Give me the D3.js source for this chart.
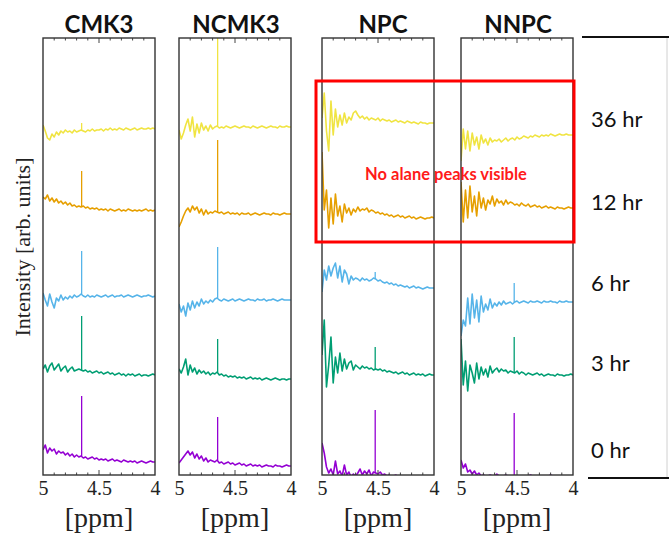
<!DOCTYPE html>
<html>
<head>
<meta charset="utf-8">
<script src="https://cdn.jsdelivr.net/npm/d3@7"></script>
<style>
  html, body { margin: 0; padding: 0; background: #fff; }
  svg { display: block; }
</style>
</head>
<body>
<svg id="chart" width="669" height="533"></svg>
<script>
// ---------------- DATA ----------------
const panelNames = ["CMK3", "NCMK3", "NPC", "NNPC"];
const timeLabels = ["36 hr", "12 hr", "6 hr", "3 hr", "0 hr"];
const tickValues = [5, 4.5, 4];
const tickLabels = ["5", "4.5", "4"];
const boxNote = "No alane peaks visible";

// spectra sampled every 0.02 ppm from 5.00 to 4.00 (deviation from trace baseline)
const cmk3_36 = [4,-2,-9,-11,-5,-8,-3,-6,-2,-4,-1,-3,-2,-4,-1,-3,-2,-1,-2,-3,-1,-2,0,-2,-1,-1,0,-2,0,-1,1,-1,0,-1,1,0,-1,1,0,-1,0,1,-1,0,1,0,0,1,0,1,0];
const cmk3_12 = [13,11,15,9,12,8,11,7,9,6,8,5,7,4,5,3,4,3,4,2,3,1,2,1,2,0,1,0,1,-1,1,0,-1,0,1,-1,0,-1,1,0,-1,0,-1,0,-1,0,1,-1,0,-1,0];
const cmk3_6  = [3,-4,-10,2,-6,-12,-2,-5,1,-4,-1,-3,0,-2,1,-1,0,2,0,-1,1,-1,0,-1,1,0,-1,0,1,-1,0,1,-1,0,0,1,-1,0,1,0,-1,0,1,0,-1,0,0,1,0,-1,0];
const cmk3_3  = [6,10,3,9,12,5,8,11,4,7,9,3,6,8,4,5,6,5,4,5,3,4,2,3,4,2,3,1,2,3,1,2,0,1,2,0,1,-1,1,0,1,-1,0,1,-1,0,0,-1,0,1,0];
const cmk3_0  = [12,17,9,14,11,13,8,11,9,10,7,9,6,8,5,7,5,6,4,5,3,4,5,3,4,2,3,2,3,1,2,3,1,2,1,0,2,1,0,1,0,1,-1,0,1,0,-1,0,1,0,0];

const ncmk3_36 = [-3,-12,-6,2,8,-4,10,-10,3,-6,4,-3,1,-4,2,-2,0,1,-1,0,-1,1,0,-1,0,1,0,-1,0,1,0,0,-1,1,0,-1,0,1,0,-1,0,1,0,0,-1,1,0,0,1,0,0];
const ncmk3_12 = [-13,-8,-2,3,6,2,8,4,7,1,5,-1,4,0,2,1,3,2,1,2,0,1,2,0,1,0,1,-1,1,0,0,1,-1,0,1,0,-1,0,1,0,0,-1,1,0,0,-1,0,1,0,0,0];
const ncmk3_6  = [-4,-12,-6,-16,-3,-10,-1,-8,-2,-6,1,-4,-1,-3,0,-2,1,2,0,-1,1,0,-1,0,1,-1,0,1,0,-1,0,1,0,0,-1,1,0,0,1,-1,0,0,1,0,-1,0,1,0,0,0,0];
const ncmk3_3  = [10,6,12,20,4,14,7,11,5,9,6,8,5,7,4,6,5,7,4,5,3,4,2,3,2,3,1,2,1,2,0,1,2,0,1,0,1,-1,0,1,0,-1,0,1,0,-1,0,0,-1,0,0];
const ncmk3_0  = [3,6,9,12,15,11,14,8,12,7,10,5,8,4,6,5,4,6,3,4,2,3,4,2,3,1,2,3,1,2,0,1,2,0,1,0,1,-1,0,1,0,0,-1,1,0,0,-1,0,1,0,0];

const npc_36 = [5,30,-8,-28,22,-12,14,-4,8,-2,10,0,6,3,10,12,8,5,7,4,6,3,5,4,3,5,2,4,3,2,3,1,2,3,1,2,1,0,2,1,0,1,0,-1,1,0,0,-1,0,0,0];
const npc_12 = [66,8,28,-10,20,-6,24,2,12,-4,14,5,10,3,9,6,11,7,9,8,10,6,8,7,5,6,4,5,3,4,2,3,1,2,3,1,2,0,1,2,0,1,-1,0,1,0,-1,0,0,1,0];
const npc_6  = [-4,18,8,22,12,20,25,10,22,6,18,14,4,12,8,10,9,7,10,8,9,7,8,10,9,7,8,6,5,6,4,5,3,4,2,3,2,1,2,0,1,2,0,1,0,-1,0,1,0,0,0];
const npc_3  = [20,55,-12,10,38,-8,18,2,22,4,16,6,12,14,5,10,8,6,9,7,8,6,7,5,6,5,6,4,5,3,4,3,2,3,1,2,3,1,2,0,1,2,0,1,0,1,-1,0,1,0,0];
const npc_0  = [34,24,10,4,8,2,16,3,6,1,12,2,5,0,3,1,4,8,2,6,3,7,1,5,4,3,5,2,3,1,2,0,1,2,0,1,0,1,0,0,1,0,0,1,0,0,0,1,0,0,0];

const nnpc_36 = [-26,6,-14,4,-16,2,-10,-2,-14,0,-8,-4,-10,-3,-7,-5,-6,-4,-7,-5,-3,-6,-4,-3,-5,-2,-4,-3,-1,-2,-3,-1,-2,0,-1,-2,0,-1,0,-1,1,0,-1,0,1,0,0,1,0,0,0];
const nnpc_12 = [26,-14,18,-10,22,-4,12,-8,16,0,10,-2,8,4,12,2,9,5,7,3,8,4,6,5,3,4,2,5,3,2,4,1,2,3,1,2,0,1,2,0,1,0,-1,1,0,0,-1,0,1,0,0];
const nnpc_6  = [-34,-18,-24,4,-22,8,-16,2,-20,6,-10,-2,-8,3,-6,-1,-4,0,-3,1,-2,-1,0,-2,0,1,-1,0,1,0,-1,1,0,0,1,0,-1,1,0,0,1,0,0,-1,1,0,0,1,0,0,0];
const nnpc_3  = [36,-10,14,-16,10,2,-8,12,-4,8,0,6,-2,9,2,5,7,3,6,4,5,2,4,3,2,4,1,3,2,0,2,1,0,1,2,0,1,-1,0,1,0,0,-1,1,0,0,-1,0,0,1,0];
const nnpc_0  = [16,8,12,4,6,2,5,1,3,0,1,0,0,1,0,0,2,0,0,0,1,0,0,0,0,0,0,0,0,0,0,1,0,0,0,0,0,0,0,0,1,0,0,0,0,0,0,0,0,0,0];

// baseline offsets (36, 12, 6, 3, 0 hr) per panel
const cmk3_offsets  = [346, 265, 179, 100, 13];
const ncmk3_offsets = [348, 261, 175, 96, 9];
const npc_offsets   = [352, 257, 187, 100, -2];
const nnpc_offsets  = [340, 267, 173, 100, -1];

// sharp peak position (ppm) per panel and peak height above baseline per trace
const peakPpm = [4.655, 4.655, 4.525, 4.525];
const cmk3_peaks  = [6, 39, 45, 59, 66];
const ncmk3_peaks = [100, 74, 53, 40, 49];
const npc_peaks   = [0, 0, 16, 28, 67];
const nnpc_peaks  = [0, 0, 19, 38, 63];

// ---------------- BUILD ----------------
const ppmStep = 0.02;
const series = [
  [cmk3_36, cmk3_12, cmk3_6, cmk3_3, cmk3_0],
  [ncmk3_36, ncmk3_12, ncmk3_6, ncmk3_3, ncmk3_0],
  [npc_36, npc_12, npc_6, npc_3, npc_0],
  [nnpc_36, nnpc_12, nnpc_6, nnpc_3, nnpc_0]
];
const offsets = [cmk3_offsets, ncmk3_offsets, npc_offsets, nnpc_offsets];
const peaks = [cmk3_peaks, ncmk3_peaks, npc_peaks, nnpc_peaks];

const colors = ["#f0e442", "#e69f00", "#56b4e9", "#009e73", "#9400d3"];

const svg = d3.select("#chart");
const yTop = 38, yBottom = 475, pw = 112;
const panelLeft = [43, 179, 322, 461];
const titleDx = [0, 1, 5, 1];

const y = d3.scaleLinear().domain([0, 437]).range([yBottom, yTop]);

const defs = svg.append("defs");

panelNames.forEach((name, p) => {
  const x0 = panelLeft[p];
  const x = d3.scaleLinear().domain([5, 4]).range([x0, x0 + pw]);
  const g = svg.append("g");

  defs.append("clipPath").attr("id", "clip" + p)
    .append("rect").attr("x", x0).attr("y", yTop).attr("width", pw).attr("height", yBottom - yTop);

  const plot = g.append("g").attr("clip-path", `url(#clip${p})`);
  const line = d3.line().x(d => x(d[0])).y(d => y(d[1]));

  series[p].forEach((vals, k) => {
    const off = offsets[p][k];
    const pts = vals.map((v, i) => [5 - i * ppmStep, off + v]);
    plot.append("path")
      .attr("d", line(pts))
      .attr("fill", "none")
      .attr("stroke", colors[k])
      .attr("stroke-width", 1.6)
      .attr("stroke-linejoin", "round");
    const h = peaks[p][k];
    if (h > 0) {
      const idx = Math.round((5 - peakPpm[p]) / ppmStep);
      plot.append("line")
        .attr("x1", x(peakPpm[p])).attr("x2", x(peakPpm[p]))
        .attr("y1", y(off + vals[idx])).attr("y2", y(off + h))
        .attr("stroke", colors[k]).attr("stroke-width", 1.3);
    }
  });

  // minor / major ticks (inside, top & bottom)
  const minor = d3.range(1, 10).map(i => 5 - i * 0.1);
  minor.forEach(t => {
    const len = Math.abs(t - 4.5) < 1e-6 ? 5 : 2.5;
    g.append("line").attr("x1", x(t)).attr("x2", x(t)).attr("y1", yTop).attr("y2", yTop + len)
      .attr("stroke", "#444").attr("stroke-width", 1);
    g.append("line").attr("x1", x(t)).attr("x2", x(t)).attr("y1", yBottom).attr("y2", yBottom - len)
      .attr("stroke", "#444").attr("stroke-width", 1);
  });

  // frame
  g.append("rect").attr("x", x0).attr("y", yTop).attr("width", pw).attr("height", yBottom - yTop)
    .attr("fill", "none").attr("stroke", "#333").attr("stroke-width", 1.4);

  // tick labels
  const axis = d3.axisBottom(x).tickValues(tickValues).tickFormat((d, i) => tickLabels[i]).tickSize(0).tickPadding(0);
  const ax = g.append("g").attr("transform", `translate(0,${yBottom + 6})`).call(axis);
  ax.select(".domain").remove();
  ax.selectAll("text")
    .attr("font-family", "'Liberation Serif', 'Times New Roman', serif")
    .attr("font-size", 20).attr("fill", "#222").attr("dy", "0.71em");

  g.append("text").attr("x", x0 + pw / 2).attr("y", 527)
    .attr("text-anchor", "middle")
    .attr("font-family", "'Liberation Serif', 'Times New Roman', serif")
    .attr("font-size", 28).attr("fill", "#222").text("[ppm]");

  g.append("text").attr("x", x0 + pw / 2 + titleDx[p]).attr("y", 33)
    .attr("text-anchor", "middle")
    .attr("font-family", "Lato, 'Open Sans', sans-serif").attr("font-weight", 700)
    .attr("font-size", 24).attr("fill", "#111").text(name);
});

// y-axis label
svg.append("text").attr("transform", "translate(30,247) rotate(-90)")
  .attr("text-anchor", "middle")
  .attr("font-family", "'Liberation Serif', 'Times New Roman', serif")
  .attr("font-size", 22).attr("fill", "#222").text("Intensity [arb. units]");

// right-hand legend column
svg.append("line").attr("x1", 582).attr("x2", 669).attr("y1", 37).attr("y2", 37)
  .attr("stroke", "#111").attr("stroke-width", 2.2);
svg.append("line").attr("x1", 588).attr("x2", 669).attr("y1", 478).attr("y2", 478)
  .attr("stroke", "#111").attr("stroke-width", 2.2);
svg.append("line").attr("x1", 667).attr("x2", 667).attr("y1", 38).attr("y2", 477)
  .attr("stroke", "#d0d0d0").attr("stroke-width", 1);
const labelY = [127, 210, 291, 371, 458];
timeLabels.forEach((t, i) => {
  svg.append("text").attr("x", 591).attr("y", labelY[i])
    .attr("font-family", "Lato, 'Open Sans', sans-serif")
    .attr("font-size", 22).attr("fill", "#111").text(t);
});

// red highlight box
svg.append("rect").attr("x", 316).attr("y", 81).attr("width", 258).attr("height", 161)
  .attr("fill", "none").attr("stroke", "#ff0000").attr("stroke-width", 3);
svg.append("text").attr("x", 446).attr("y", 180).attr("text-anchor", "middle")
  .attr("font-family", "Lato, 'Open Sans', sans-serif").attr("font-weight", 700)
  .attr("font-size", 16.5).attr("fill", "#ff1a1a").text(boxNote);
</script>
</body>
</html>
